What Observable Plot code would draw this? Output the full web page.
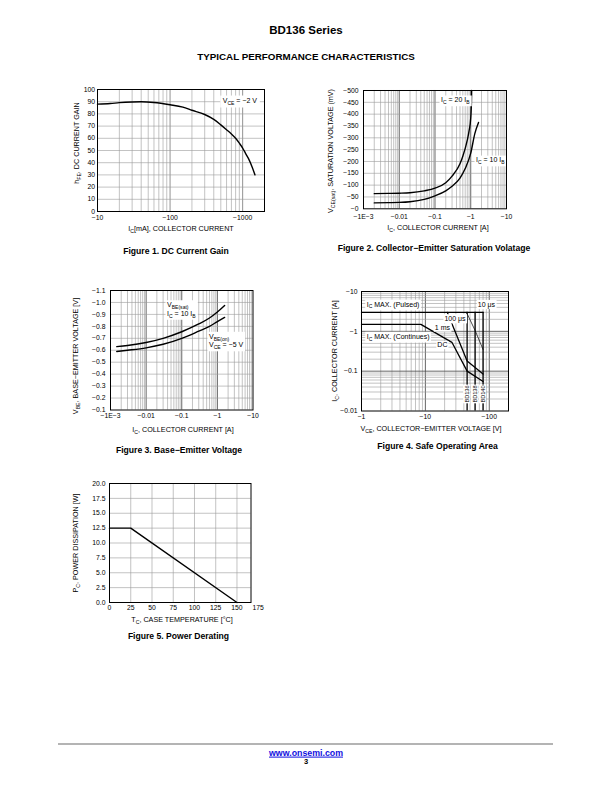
<!DOCTYPE html>
<html>
<head>
<meta charset="utf-8">
<script src="https://cdn.jsdelivr.net/npm/d3@7"></script>
<script src="https://cdn.jsdelivr.net/npm/@observablehq/plot@0.6"></script>
<style>
html,body{margin:0;padding:0;background:#fff;}
#page{position:relative;width:612px;height:792px;overflow:hidden;font-family:"Liberation Sans",Arial,Helvetica,sans-serif;color:#000;}
#page sub{font-size:0.72em;vertical-align:-0.3em;line-height:0;}
.t{position:absolute;white-space:nowrap;line-height:1;}
</style>
</head>
<body>
<div id="page"></div>
<script>
// ---------------- Figure 1: DC Current Gain ----------------
const fig1Current = [10, 15, 20, 30, 40, 60, 100, 150, 200, 300, 400, 500, 600, 700, 800, 900, 1000, 1100, 1200, 1350, 1480];
const fig1Gain    = [88, 88.5, 89.2, 89.8, 90, 89.4, 87.5, 85.5, 83, 79.5, 75.5, 71, 67, 63.5, 60, 56, 52, 47.5, 43.5, 36.5, 30];
const fig1XTicks = [10, 100, 1000];
const fig1XTickLabels = ["−10", "−100", "−1000"];
const fig1YTicks = [0, 10, 20, 30, 40, 50, 60, 70, 80, 90, 100];
const fig1YTickLabels = ["0", "10", "20", "30", "40", "50", "60", "70", "80", "90", "100"];

// ---------------- Figure 2: Collector-Emitter Saturation Voltage ----------------
const fig2Current20 = [0.002, 0.005, 0.01, 0.02, 0.05, 0.1, 0.2, 0.3, 0.5, 0.6, 0.8, 0.9, 1.0, 1.05, 1.06];
const fig2Vce20     = [64, 65, 66, 68, 76, 87, 110, 138, 190, 222, 290, 330, 385, 460, 500];
const fig2Current10 = [0.002, 0.005, 0.01, 0.02, 0.05, 0.1, 0.2, 0.3, 0.5, 0.7, 1.0, 1.3, 1.65];
const fig2Vce10     = [25, 26, 27, 30, 40, 55, 76, 95, 130, 170, 235, 318, 365];
const fig2XTicks = [0.001, 0.01, 0.1, 1, 10];
const fig2XTickLabels = ["−1E−3", "−0.01", "−0.1", "−1", "−10"];
const fig2YTicks = [0, 50, 100, 150, 200, 250, 300, 350, 400, 450, 500];
const fig2YTickLabels = ["−0", "−50", "−100", "−150", "−200", "−250", "−300", "−350", "−400", "−450", "−500"];

// ---------------- Figure 3: Base-Emitter Voltage ----------------
const fig3Current = [0.0015, 0.003, 0.01, 0.03, 0.1, 0.3, 0.6, 1, 1.6];
const fig3VbeSat  = [0.63, 0.64, 0.665, 0.70, 0.755, 0.82, 0.87, 0.92, 0.975];
const fig3VbeOn   = [0.59, 0.60, 0.62, 0.65, 0.70, 0.76, 0.80, 0.84, 0.875];
const fig3XTicks = [0.001, 0.01, 0.1, 1, 10];
const fig3XTickLabels = ["−1E−3", "−0.01", "−0.1", "−1", "−10"];
const fig3YTicks = [0.1, 0.2, 0.3, 0.4, 0.5, 0.6, 0.7, 0.8, 0.9, 1.0, 1.1];
const fig3YTickLabels = ["−0.1", "−0.2", "−0.3", "−0.4", "−0.5", "−0.6", "−0.7", "−0.8", "−0.9", "−1.0", "−1.1"];

// ---------------- Figure 4: Safe Operating Area ----------------
const fig4PulsedV = [1, 80];
const fig4PulsedI = [3, 3];
const fig4DcV = [1, 8.5, 26, 45, 80];
const fig4DcI = [1.5, 1.5, 0.53, 0.1, 0.055];
const fig4MsV = [22, 45, 80];
const fig4MsI = [3, 0.18, 0.085];
const fig4UsV = [44, 60, 80];
const fig4UsI = [3, 1.05, 0.35];
const fig4BdV = [45, 60, 80];
const fig4BdNames = ["BD136", "BD138", "BD140"];
const fig4XTicks = [1, 10, 100];
const fig4XTickLabels = ["−1", "−10", "−100"];
const fig4YTicks = [0.01, 0.1, 1, 10];
const fig4YTickLabels = ["−0.01", "−0.1", "−1", "−10"];

// ---------------- Figure 5: Power Derating ----------------
const fig5Temp  = [0, 25, 150];
const fig5Power = [12.5, 12.5, 0];
const fig5XTicks = [0, 25, 50, 75, 100, 125, 150, 175];
const fig5XTickLabels = ["0", "25", "50", "75", "100", "125", "150", "175"];
const fig5YTicks = [0, 2.5, 5, 7.5, 10, 12.5, 15, 17.5, 20];
const fig5YTickLabels = ["0.0", "2.5", "5.0", "7.5", "10.0", "12.5", "15.0", "17.5", "20.0"];

// ---------------- helpers ----------------
const FONT = "'Liberation Sans', Arial, Helvetica, sans-serif";
const page = document.getElementById("page");
const MINOR = {stroke: "#9a9a9a", strokeWidth: 0.6};
const MAJOR = {stroke: "#555", strokeWidth: 0.9};
const CURVE = {stroke: "#000", strokeWidth: 1.4, curve: "monotone-x"};

function logMinor(lo, hi) {
  const out = [];
  for (let e = Math.floor(Math.log10(lo) + 1e-9); e < Math.ceil(Math.log10(hi) - 1e-9); e++)
    for (let m = 2; m <= 9; m++) {
      const v = +(m * Math.pow(10, e)).toPrecision(6);
      if (v > lo * 1.0001 && v < hi * 0.9999) out.push(v);
    }
  return out;
}
function logDecades(lo, hi) {
  const out = [];
  for (let e = Math.ceil(Math.log10(lo) - 1e-9); e <= Math.floor(Math.log10(hi) + 1e-9); e++) {
    const v = +Math.pow(10, e).toPrecision(6);
    if (v > lo * 1.0001 && v < hi * 0.9999) out.push(v);
  }
  return out;
}

function build(frame, xOpt, yOpt, marks, xa, ya) {
  const [L, R, T, B] = frame;
  const mL = 45, mR = 14, mT = 10, mB = 22;
  const chart = Plot.plot({
    width: R - L + mL + mR, height: B - T + mT + mB,
    marginLeft: mL, marginRight: mR, marginTop: mT, marginBottom: mB,
    style: {fontFamily: FONT, fontSize: "6.8px", background: "transparent", color: "#000", overflow: "visible"},
    x: xOpt, y: yOpt,
    marks: [
      ...marks,
      Plot.axisX(xa.ticks, {tickFormat: d => xa.labels[xa.ticks.indexOf(d)], tickSize: 0, tickPadding: xa.pad, label: null}),
      Plot.axisY(ya.ticks, {tickFormat: d => ya.labels[ya.ticks.indexOf(d)], tickSize: 0, tickPadding: ya.pad, label: null}),
      Plot.frame({stroke: "#000", strokeWidth: 1})
    ]
  });
  chart.style.position = "absolute";
  chart.style.left = (L - mL) + "px";
  chart.style.top = (T - mT) + "px";
  page.appendChild(chart);
  return chart;
}

// parts: strings (normal) or {s: "..."} (subscript)
function annotate(chart, items, fs) {
  const sx = chart.scale("x"), sy = chart.scale("y");
  const svg = d3.select(chart);
  items.forEach(it => {
    const f = it.fs || fs;
    const px = sx.apply(it.x), py = sy.apply(it.y);
    const g = svg.append("g").attr("font-size", f).attr("fill", "#000").attr("font-family", FONT);
    if (it.rotate) g.attr("transform", `rotate(${it.rotate} ${px} ${py})`);
    const lh = f * 1.25;
    it.lines.forEach((parts, i) => {
      const t = g.append("text").attr("x", px).attr("y", py + i * lh).attr("dy", "0.35em")
        .attr("text-anchor", it.anchor || "start");
      let down = false;
      parts.forEach(p => {
        if (typeof p === "string") {
          const ts = t.append("tspan").text(p);
          if (down) { ts.attr("dy", -f * 0.28); down = false; }
        } else {
          const ts = t.append("tspan").text(p.s).attr("font-size", f * 0.72);
          if (!down) { ts.attr("dy", f * 0.28); down = true; }
        }
      });
    });
    if (it.bg) {
      const bb = g.node().getBBox();
      const pad = it.pad == null ? 1.5 : it.pad;
      g.insert("rect", ":first-child")
        .attr("x", bb.x - pad).attr("y", bb.y - pad * 0.6)
        .attr("width", bb.width + 2 * pad).attr("height", bb.height + pad * 1.2)
        .attr("fill", "#fff");
    }
  });
  svg.selectAll('[aria-label="frame"]').raise();
}

function text(html, cx, cy, fs, opts = {}) {
  const d = document.createElement("div");
  d.className = "t";
  d.innerHTML = html;
  d.style.left = cx + "px";
  d.style.top = cy + "px";
  d.style.fontSize = fs + "px";
  if (opts.bold) d.style.fontWeight = "bold";
  d.style.transform = "translate(-50%,-50%)" + (opts.rotate ? " rotate(-90deg)" : "");
  page.appendChild(d);
  return d;
}

// ---------------- Page header ----------------
text("BD136 Series", 306, 31, 11.5, {bold: true});
text("TYPICAL PERFORMANCE CHARACTERISTICS", 306, 57, 9.8, {bold: true});

// ---------------- Figure 1 ----------------
{
  const xd = [10, 2000], yd = [0, 100];
  const c = build([97, 264, 88.5, 210.5],
    {type: "log", domain: xd}, {domain: yd},
    [
      Plot.ruleX(logMinor(...xd), MINOR),
      Plot.ruleX(logDecades(...xd), {stroke: "#777", strokeWidth: 0.8}),
      Plot.ruleY(fig1YTicks.slice(1, -1), MINOR),
      Plot.line(fig1Current, {x: fig1Current, y: fig1Gain, ...CURVE})
    ],
    {ticks: fig1XTicks, labels: fig1XTickLabels, pad: 3.5},
    {ticks: fig1YTicks, labels: fig1YTickLabels, pad: 2.5});
  annotate(c, [{x: 540, y: 90.5, lines: [["V", {s: "CE"}, " = −2 V"]], bg: true, pad: 2.5}], 7);
  text("h<sub>FE</sub>, DC CURRENT GAIN", 77, 143, 7.2, {rotate: true});
  text("I<sub>C</sub>[mA], COLLECTOR CURRENT", 181, 228.5, 7.2);
  text("Figure 1. DC Current Gain", 176, 251, 8.6, {bold: true});
}

// ---------------- Figure 2 ----------------
{
  const xd = [0.001, 10], yd = [0, 500];
  const c = build([363, 506, 90, 208.3],
    {type: "log", domain: xd}, {domain: yd},
    [
      Plot.ruleX(logMinor(...xd), MINOR),
      Plot.ruleX(logDecades(...xd), MAJOR),
      Plot.ruleY(fig2YTicks.slice(1, -1), MINOR),
      Plot.line(fig2Current20, {x: fig2Current20, y: fig2Vce20, ...CURVE}),
      Plot.line(fig2Current10, {x: fig2Current10, y: fig2Vce10, ...CURVE})
    ],
    {ticks: fig2XTicks, labels: fig2XTickLabels, pad: 5},
    {ticks: fig2YTicks, labels: fig2YTickLabels, pad: 5});
  annotate(c, [
    {x: 0.152, y: 458, lines: [["I", {s: "C"}, " = 20 I", {s: "B"}]], bg: true},
    {x: 1.45, y: 204, lines: [["I", {s: "C"}, " = 10 I", {s: "B"}]], bg: true}
  ], 7);
  text("V<sub>CE(sat)</sub>, SATURATION VOLTAGE (mV)", 331, 151, 7.2, {rotate: true});
  text("I<sub>C</sub>, COLLECTOR CURRENT [A]", 438, 228, 7.2);
  text("Figure 2. Collector−Emitter Saturation Volatage", 434, 248, 8.6, {bold: true});
}

// ---------------- Figure 3 ----------------
{
  const xd = [0.001, 10], yd = [0.1, 1.1];
  const c = build([110, 252.5, 290, 409.5],
    {type: "log", domain: xd}, {domain: yd},
    [
      Plot.ruleX(logMinor(...xd), MINOR),
      Plot.ruleX(logDecades(...xd), MAJOR),
      Plot.ruleY(fig3YTicks.slice(1, -1), MINOR),
      Plot.line(fig3Current, {x: fig3Current, y: fig3VbeSat, ...CURVE}),
      Plot.line(fig3Current, {x: fig3Current, y: fig3VbeOn, ...CURVE})
    ],
    {ticks: fig3XTicks, labels: fig3XTickLabels, pad: 3},
    {ticks: fig3YTicks, labels: fig3YTickLabels, pad: 5});
  annotate(c, [
    {x: 0.04, y: 0.977, lines: [["V", {s: "BE(sat)"}], ["I", {s: "C"}, " = 10 I", {s: "B"}]], bg: true},
    {x: 0.6, y: 0.713, lines: [["V", {s: "BE(on)"}], ["V", {s: "CE"}, " = −5 V"]], bg: true}
  ], 7);
  text("V<sub>BE</sub>, BASE−EMITTER VOLTAGE [V]", 75.5, 356, 7.2, {rotate: true});
  text("I<sub>C</sub>, COLLECTOR CURRENT [A]", 183, 430, 7.2);
  text("Figure 3. Base−Emitter Voltage", 179, 450, 8.6, {bold: true});
}

// ---------------- Figure 4 ----------------
{
  const xd = [1, 200], yd = [0.01, 10];
  const LINE = {stroke: "#000", strokeWidth: 1.3};
  const c = build([361, 508, 291, 410.5],
    {type: "log", domain: xd}, {type: "log", domain: yd},
    [
      Plot.ruleX(logMinor(...xd), MINOR),
      Plot.ruleX(logDecades(...xd), MAJOR),
      Plot.ruleY(logMinor(...yd), MINOR),
      Plot.ruleY(logDecades(...yd), MAJOR),
      Plot.line(fig4PulsedV, {x: fig4PulsedV, y: fig4PulsedI, ...LINE}),
      Plot.ruleX(fig4BdV, {x: d => d, y1: () => 0.01, y2: () => 3, ...LINE}),
      Plot.line(fig4DcV, {x: fig4DcV, y: fig4DcI, ...LINE}),
      Plot.line(fig4MsV, {x: fig4MsV, y: fig4MsI, ...LINE}),
      Plot.line(fig4UsV, {x: fig4UsV, y: fig4UsI, stroke: "#000", strokeWidth: 0.7})
    ],
    {ticks: fig4XTicks, labels: fig4XTickLabels, pad: 2.7},
    {ticks: fig4YTicks, labels: fig4YTickLabels, pad: 4});
  annotate(c, [
    {x: 1.23, y: 4.7, lines: [["I", {s: "C"}, " MAX. (Pulsed)"]], bg: true},
    {x: 1.23, y: 0.73, lines: [["I", {s: "C"}, " MAX. (Continues)"]], bg: true},
    {x: 18.8, y: 1.2, lines: [["1 ms"]], anchor: "middle", bg: true, pad: 1},
    {x: 18.8, y: 0.44, lines: [["DC"]], anchor: "middle", bg: true, pad: 1},
    {x: 29.6, y: 2.06, lines: [["100 μs"]], anchor: "middle", bg: true, pad: 1},
    {x: 92, y: 4.7, lines: [["10 μs"]], anchor: "middle", bg: true, pad: 1},
    ...fig4BdV.map((v, i) => ({x: v, y: 0.026, lines: [[fig4BdNames[i]]], anchor: "middle", rotate: -90, fs: 5.6, bg: true, pad: 0.8}))
  ], 7);
  text("I<sub>C</sub>, COLLECTOR CURRENT [A]", 335, 351, 7.2, {rotate: true});
  text("V<sub>CE</sub>, COLLECTOR−EMITTER VOLTAGE [V]", 431, 428.5, 7.2);
  text("Figure 4. Safe Operating Area", 437.5, 446, 8.6, {bold: true});
}

// ---------------- Figure 5 ----------------
{
  const xd = [0, 166.5], yd = [0, 20];
  const c = build([108.5, 250, 482.5, 601.5],
    {domain: xd}, {domain: yd},
    [
      Plot.ruleX(fig5XTicks.slice(1, 7), MINOR),
      Plot.ruleY(fig5YTicks.slice(1, -1), MINOR),
      Plot.line(fig5Temp, {x: fig5Temp, y: fig5Power, stroke: "#000", strokeWidth: 1.4})
    ],
    {ticks: fig5XTicks, labels: fig5XTickLabels, pad: 2.7},
    {ticks: fig5YTicks, labels: fig5YTickLabels, pad: 4});
  text("P<sub>C</sub>, POWER DISSIPATION [W]", 76, 543, 7.2, {rotate: true});
  text("T<sub>C</sub>, CASE TEMPERATURE [°C]", 182, 620, 7.2);
  text("Figure 5. Power Derating", 178.5, 636, 8.6, {bold: true});
}

// ---------------- Footer ----------------
{
  const hr = document.createElement("div");
  hr.style.cssText = "position:absolute;left:58px;top:743px;width:495px;height:1.6px;background:#b4b4b4;";
  page.appendChild(hr);
  text('<a href="http://www.onsemi.com" style="color:#1010e0;text-decoration:underline;">www.onsemi.com</a>', 306, 752.5, 8.8, {bold: true});
  text("3", 306, 762, 7.5, {bold: true});
}
</script>
</body>
</html>
